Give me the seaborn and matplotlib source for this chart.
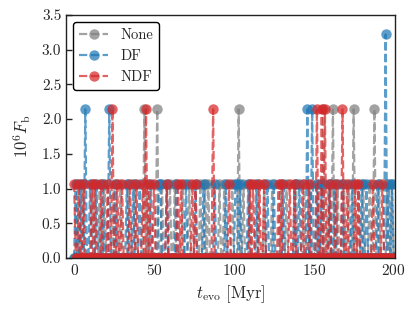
import numpy as np
import pandas as pd
import matplotlib
matplotlib.use("Agg")
import matplotlib.pyplot as plt
import seaborn as sns

# time sampling of the series [Myr]
t_start, t_stop, t_step = 0.0, 200.0, 1.0

# spike times [Myr] and heights (10^6 F_b)
none_t1 = [2, 5, 12, 16, 19, 25, 29, 34, 38, 46, 55, 60, 63, 68, 72, 79, 82, 84, 91, 94,
           99, 106, 110, 115, 119, 124, 129, 133, 139, 144, 148, 153, 159, 165, 169, 172,
           178, 181, 185, 191, 196, 199]
none_t2 = [44, 52, 103, 156, 162, 175, 188]

df_t1 = [1, 4, 10, 14, 18, 26, 33, 37, 41, 48, 53, 54, 58, 64, 70, 76, 81, 88, 95, 101,
         102, 104, 109, 114, 121, 125, 131, 138, 141, 152, 155, 160, 163, 168, 174, 180,
         183, 190, 197, 199]
df_t2 = [7, 22, 146, 149]
df_t3 = [195]

ndf_t1 = [0, 3, 6, 11, 13, 17, 21, 27, 30, 35, 39, 43, 47, 50, 58, 65, 67, 74, 76, 97,
          110, 112, 116, 119, 128, 130, 135, 138, 143, 147, 160, 164, 171, 176, 178,
          187, 193]
ndf_t2 = [24, 45, 87, 152, 155, 157, 168]

level1, level2, level3 = 1.07, 2.14, 3.22

labels = ["None", "DF", "NDF"]
colors = ["tab:gray", "tab:blue", "tab:red"]

t_evo = np.arange(t_start, t_stop + t_step / 2, t_step)


def build(spikes):
    f = np.zeros_like(t_evo)
    for times, lev in spikes:
        for tt in times:
            f[np.argmin(np.abs(t_evo - tt))] = lev
    return f


series = {
    "None": build([(none_t1, level1), (none_t2, level2)]),
    "DF": build([(df_t1, level1), (df_t2, level2), (df_t3, level3)]),
    "NDF": build([(ndf_t1, level1), (ndf_t2, level2)]),
}

frames = [pd.DataFrame({"t": t_evo, "F": series[k], "model": k}) for k in labels]
data = pd.concat(frames, ignore_index=True)

sns.set_theme(style="ticks")
plt.rcParams["font.family"] = "serif"
plt.rcParams["font.serif"] = ["cmr10", "DejaVu Serif"]
plt.rcParams["mathtext.fontset"] = "cm"
plt.rcParams["axes.formatter.use_mathtext"] = True
plt.rcParams["axes.unicode_minus"] = False

fig = plt.figure(figsize=(4.16, 3.20), dpi=100)
ax = fig.add_axes([0.159, 0.194, 0.791, 0.759])

sns.lineplot(data=data, x="t", y="F", hue="model", hue_order=labels,
             palette=colors, estimator=None, sort=False, ax=ax,
             linestyle="--", marker="o", markersize=7.5, markeredgewidth=0,
             linewidth=1.6, alpha=0.72)

ax.set_xlim(-5, 201)
ax.set_ylim(0, 3.5)
ax.set_xticks([0, 50, 100, 150, 200])
ax.set_yticks(np.arange(0, 3.51, 0.5))
ax.yaxis.set_major_formatter(matplotlib.ticker.FormatStrFormatter("%.1f"))
ax.tick_params(direction="in", labelsize=11, length=4, width=1)
for s in ax.spines.values():
    s.set_linewidth(1.0)
    s.set_color("#222222")

ax.set_xlabel(r"$t_{\rm evo}$ [Myr]", fontsize=12)
ax.set_ylabel(r"$10^6F_{\rm b}$", fontsize=12, labelpad=6)

leg = ax.legend(loc="upper left", fontsize=10.5, frameon=True, fancybox=True,
                framealpha=1, edgecolor="black", handlelength=2.0,
                borderaxespad=0.5)
leg.get_frame().set_linewidth(1.0)

fig.savefig("out.png", dpi=100)
